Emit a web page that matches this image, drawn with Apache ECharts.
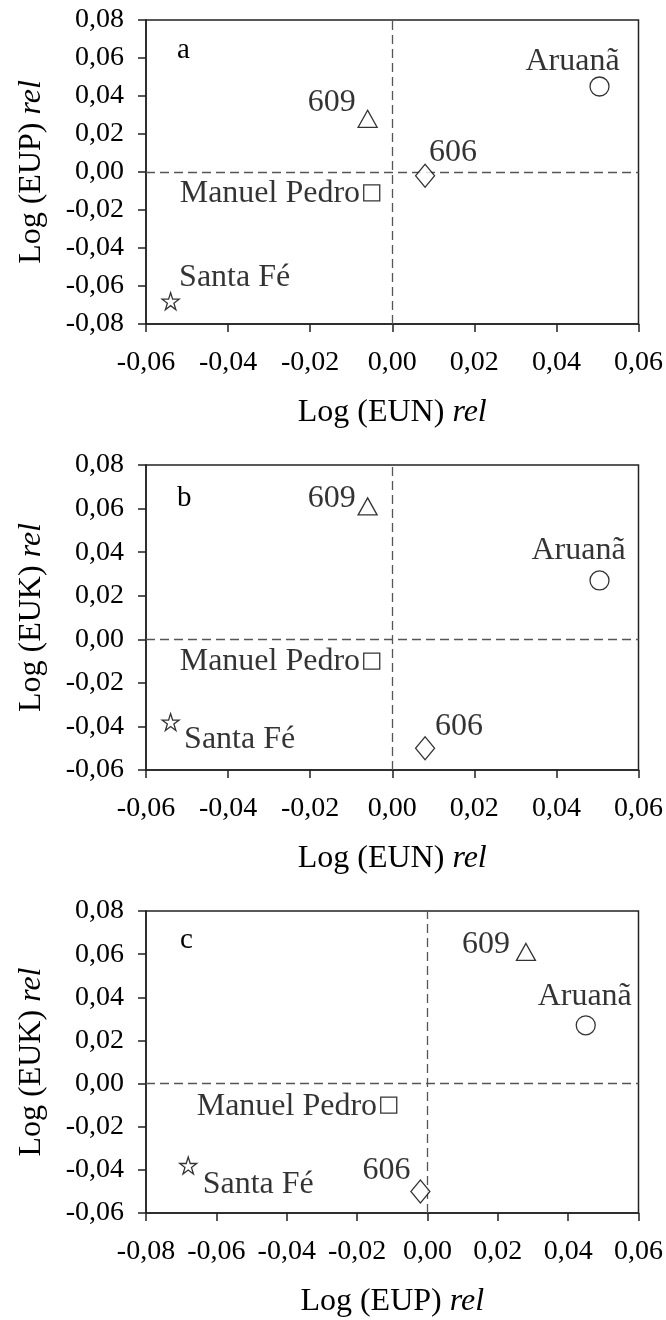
<!DOCTYPE html>
<html>
<head>
<meta charset="utf-8">
<script src="https://cdn.jsdelivr.net/npm/echarts@6/dist/echarts.min.js"></script>
<style>
html,body{margin:0;padding:0;background:#fff;}
#chart{width:666px;height:1320px;}
</style>
</head>
<body>
<div id="chart"></div>
<script>
// ---- data ----
const sites = ['Aruanã', '609', '606', 'Manuel Pedro', 'Santa Fé'];
const EUN = [0.0505, -0.006, 0.008, -0.005, -0.054];
const EUP = [0.045, 0.028, -0.002, -0.011, -0.068];
const EUK = [0.027, 0.061, -0.050, -0.010, -0.038];
const panelLetters = ['a', 'b', 'c'];
const xTitles = ['EUN', 'EUN', 'EUP'];
const yTitles = ['EUP', 'EUK', 'EUK'];
const xRanges = [[-0.06, 0.06], [-0.06, 0.06], [-0.08, 0.06]];
const yRanges = [[-0.08, 0.08], [-0.06, 0.08], [-0.06, 0.08]];

// ---- styling / layout ----
const FONT = '"Liberation Serif", "DejaVu Serif", serif';
const starPath = 'path://M50,0 L61.8,36.2 L100,36.2 L69.1,58.6 L80.9,95.1 L50,72.6 L19.1,95.1 L30.9,58.6 L0,36.2 L38.2,36.2 Z';
const symbols = ['circle', 'triangle', 'diamond', 'rect', starPath];
const symbolSizes = [[19, 19], [19, 17], [19, 23], [16, 16], [17, 17]];
const grids = [
  {left: 146, right: 26, top: 20, height: 304},
  {left: 146, right: 26, top: 465, height: 305},
  {left: 146, right: 26, top: 911, height: 302}
];
// label offsets (px) per panel, per site, relative to symbol centre
const labelOffsets = [
  [[-27, -25], [-36, -16], [28, -23], null, [64, -24]],
  [[-21, -30], [-36, -8], [34, -22], null, [69, 18]],
  [[-1, -29], [-40, -7], [-34, -21], null, [70, 19]]
];
const letterPos = [[184, 52], [184, 500], [187, 942]];

const fmt = v => v.toFixed(2).replace('.', ',').replace('-0,00', '0,00');

const option = {
  animation: false,
  backgroundColor: '#fff',
  textStyle: {fontFamily: FONT, color: '#000'},
  grid: grids.map(g => Object.assign({show: true, borderColor: '#222', borderWidth: 1.5, backgroundColor: 'transparent'}, g)),
  xAxis: [0, 1, 2].map(i => ({
    type: 'value', gridIndex: i, min: xRanges[i][0], max: xRanges[i][1], interval: 0.02,
    name: 'Log (' + xTitles[i] + ') {i|rel}', nameLocation: 'middle', nameGap: 73,
    nameTextStyle: {fontFamily: FONT, fontSize: 32, color: '#000', rich: {i: {fontFamily: FONT, fontSize: 32, fontStyle: 'italic', color: '#000'}}},
    axisLine: {show: true, onZero: false, lineStyle: {color: '#222', width: 1.5}},
    axisTick: {show: true, inside: false, length: 8, lineStyle: {color: '#222', width: 1.5}},
    axisLabel: {fontFamily: FONT, fontSize: 28, color: '#000', margin: 25, formatter: fmt},
    splitLine: {show: false}
  })),
  yAxis: [0, 1, 2].map(i => ({
    type: 'value', gridIndex: i, min: yRanges[i][0], max: yRanges[i][1], interval: 0.02,
    name: 'Log (' + yTitles[i] + ') {i|rel}', nameLocation: 'middle', nameGap: 98,
    nameTextStyle: {fontFamily: FONT, fontSize: 32, color: '#000', rich: {i: {fontFamily: FONT, fontSize: 32, fontStyle: 'italic', color: '#000'}}},
    axisLine: {show: true, onZero: false, lineStyle: {color: '#222', width: 1.5}},
    axisTick: {show: true, inside: false, length: 8, lineStyle: {color: '#222', width: 1.5}},
    axisLabel: {fontFamily: FONT, fontSize: 28, color: '#000', margin: 22, formatter: fmt},
    splitLine: {show: false}
  })),
  graphic: panelLetters.map((t, i) => ({
    type: 'text', left: letterPos[i][0] - 7, top: letterPos[i][1] - 16,
    style: {text: t, font: '29px ' + FONT, fill: '#000'}
  })),
  series: []
};

const panelData = [[EUN, EUP], [EUN, EUK], [EUP, EUK]];
for (let p = 0; p < 3; p++) {
  const [xs, ys] = panelData[p];
  const data = sites.map((s, k) => {
    const off = labelOffsets[p][k];
    const label = off ? {position: 'inside', offset: off} : {position: 'left', distance: 3, offset: [0, 1]};
    return {
      name: s, value: [xs[k], ys[k]], symbol: symbols[k], symbolSize: symbolSizes[k],
      label: Object.assign({show: true, formatter: s, fontFamily: FONT, fontSize: 32, color: '#000'}, label)
    };
  });
  option.series.push({
    type: 'scatter', xAxisIndex: p, yAxisIndex: p,
    itemStyle: {color: '#fff', borderColor: '#000', borderWidth: 1.3},
    emphasis: {disabled: true},
    data: data,
    markLine: {
      silent: true, symbol: 'none', label: {show: false},
      lineStyle: {color: '#555', type: [9, 5], width: 1.3},
      data: [{xAxis: 0}, {yAxis: 0}]
    },
    z: 5
  });
}

const chart = echarts.init(document.getElementById('chart'), null, {renderer: 'canvas'});
chart.setOption(option);
</script>
</body>
</html>
